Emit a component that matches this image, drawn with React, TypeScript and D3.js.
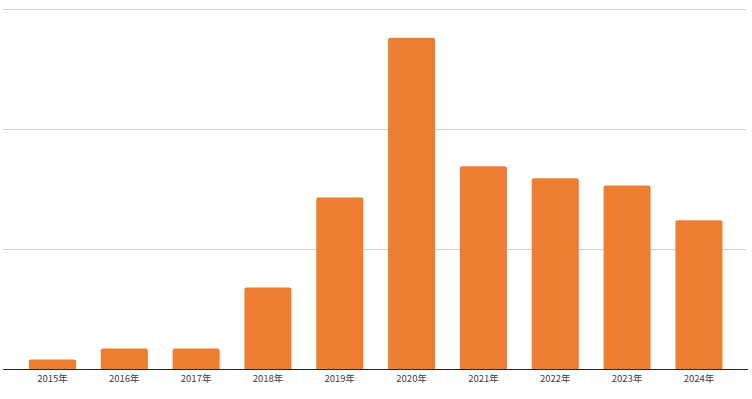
import React from "react";
import * as d3 from "d3";

const categories = ["2015年", "2016年", "2017年", "2018年", "2019年", "2020年", "2021年", "2022年", "2023年", "2024年"];
const values = [8, 17, 17, 68, 143, 276, 169, 159, 153, 124];
const gridTicks = [100, 200, 300];

export default function App() {
  const W = 752, H = 399;
  const x = d3.scaleBand<string>().domain(categories).range([16.6, 734.8]).paddingInner(0.345).paddingOuter(0.172);
  const y = d3.scaleLinear().domain([0, 300]).range([369, 9]);
  const r = 2;
  return (
    <svg width={W} height={H} style={{ position: "absolute", left: 0, top: 0, background: "#fff" }}>
      {gridTicks.map((t) => (
        <line key={t} x1={3} x2={746} y1={Math.round(y(t)) + 0.5} y2={Math.round(y(t)) + 0.5} stroke="#d0d0d0" strokeWidth={1} />
      ))}
      {categories.map((c, i) => {
        const x0 = x(c)!;
        const w = x.bandwidth();
        const top = y(values[i]);
        const b = y(0);
        const path = `M${x0},${b} L${x0},${top + r} Q${x0},${top} ${x0 + r},${top} L${x0 + w - r},${top} Q${x0 + w},${top} ${x0 + w},${top + r} L${x0 + w},${b} Z`;
        return <path key={c} d={path} fill="#ED7D31" />;
      })}
      <line x1={3} x2={748} y1={369.5} y2={369.5} stroke="#262626" strokeWidth={1} />
      {categories.map((c) => (
        <text key={c} x={x(c)! + x.bandwidth() / 2} y={382} textAnchor="middle" fontFamily="'Noto Sans CJK SC', 'Noto Sans', sans-serif" fontSize={9.5} fill="#404040">
          {c}
        </text>
      ))}
    </svg>
  );
}
